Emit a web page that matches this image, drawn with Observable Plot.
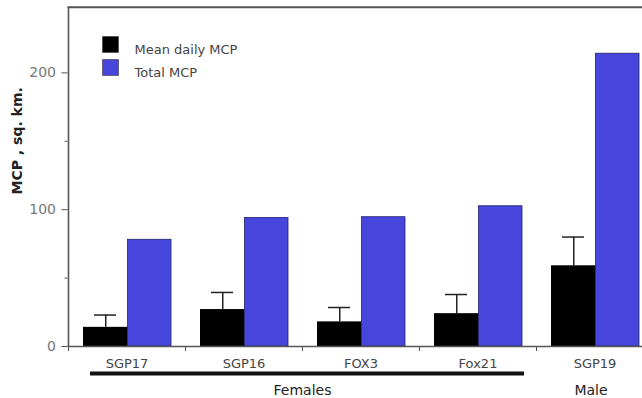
<!DOCTYPE html>
<html>
<head>
<meta charset="utf-8">
<script src="https://cdn.jsdelivr.net/npm/d3@7"></script>
<script src="https://cdn.jsdelivr.net/npm/@observablehq/plot@0.6"></script>
<style>
  html, body { margin: 0; padding: 0; background: #fff; overflow: hidden; }
  g[aria-label="y-title"] text { letter-spacing: 0.6px; }
</style>
</head>
<body>
<div id="chart"></div>
<script>
// Home range (minimum convex polygon) per animal, sq. km.
const animals = ["SGP17", "SGP16", "FOX3", "Fox21", "SGP19"];
const meanDailyMcp = [14, 27, 18, 24, 59];
const meanDailyErr = [9, 12.5, 10.5, 14, 21];
const totalMcp = [78, 94, 94.5, 102.5, 214];
const seriesNames = ["Mean daily MCP", "Total MCP"];
const seriesColors = ["#000000", "#4646dc"];
const yTicks = [0, 100, 200];
const yMinorTicks = [50, 150];
const yTitle = "MCP , sq. km.";
const femalesGroup = {label: "Females", first: "SGP17", last: "Fox21", mid: "FOX3"};
const maleGroup = {label: "Male", mid: "SGP19"};

const rows = animals.map((animal, i) => ({
  animal,
  mean: meanDailyMcp[i],
  err: meanDailyErr[i],
  total: totalMcp[i]
}));

const yMax = 248;
const xLeft = 67.5, step = 117;          // band layout; the last band runs past the right edge
const axisGrey = "#555";

const chart = Plot.plot({
  width: 642,
  height: 398,
  marginTop: 6.7,
  marginBottom: 52,
  marginLeft: xLeft,
  marginRight: 0,
  style: {fontFamily: "'DejaVu Sans', sans-serif", fontSize: "13px", background: "#fff"},
  x: {domain: animals, range: [xLeft, xLeft + step * animals.length], padding: 0, label: null},
  y: {domain: [0, yMax], label: null},
  color: {domain: seriesNames, range: seriesColors},
  marks: [
    // paired bars inside each animal's band
    Plot.barY(rows, {x: "animal", y: "mean", fill: () => seriesNames[0], insetLeft: 15, insetRight: 57.5}),
    Plot.barY(rows, {x: "animal", y: "total", fill: () => seriesNames[1], insetLeft: 59.5, insetRight: 14,
      stroke: "#22226a", strokeWidth: 0.8}),
    // error bars on the daily means
    Plot.ruleX(rows, {x: "animal", y1: "mean", y2: d => d.mean + d.err, dx: -21.25, stroke: "#222", strokeWidth: 1.5}),
    Plot.tickY(rows, {x: "animal", y: d => d.mean + d.err, insetLeft: 26, insetRight: 69, stroke: "#222", strokeWidth: 1.5}),
    // open box: top, bottom and left sides
    Plot.ruleY([0], {stroke: axisGrey, strokeWidth: 1.6}),
    Plot.ruleY([yMax], {stroke: axisGrey, strokeWidth: 2}),
    Plot.ruleX([animals[0]], {dx: -step / 2, stroke: axisGrey, strokeWidth: 1.6}),
    // y axis
    Plot.axisY({ticks: yTicks, tickSize: 6, tickPadding: 6, label: null, fontSize: 14, stroke: axisGrey, fill: "#777"}),
    Plot.axisY({ticks: yMinorTicks, tickSize: 3, tickFormat: () => "", label: null, stroke: axisGrey}),
    Plot.text([yTitle], {frameAnchor: "left", textAnchor: "middle", dx: -50, dy: -36, rotate: -90,
      fontWeight: "bold", fontSize: 14, fill: "#222", ariaLabel: "y-title"}),
    // x axis: animal labels and group boundary ticks
    Plot.axisX({tickSize: 0, tickPadding: 12, label: null, fontSize: 13, fill: "#444"}),
    Plot.axisX({tickSize: 5, tickFormat: () => "", label: null, dx: -step / 2, stroke: axisGrey}),
    // sex grouping
    Plot.ruleY([femalesGroup], {y: () => 0, x1: "first", x2: "last", dy: 27, insetLeft: 22, insetRight: 12,
      stroke: "#111", strokeWidth: 4}),
    Plot.text([femalesGroup], {x: "mid", y: () => 0, text: "label", dx: -step / 2, dy: 44, fontSize: 14, fill: "#222"}),
    Plot.text([maleGroup], {x: "mid", y: () => 0, text: "label", dx: -4, dy: 44, fontSize: 14, fill: "#222"}),
    // legend inside the box
    Plot.dot([seriesNames[0]], {frameAnchor: "top-left", dx: 42.5, dy: 37.3, symbol: "square", r: 9,
      fill: d => d, stroke: "#333", strokeWidth: 0.6}),
    Plot.dot([seriesNames[1]], {frameAnchor: "top-left", dx: 42.5, dy: 60.3, symbol: "square", r: 9,
      fill: d => d, stroke: "#333", strokeWidth: 0.6}),
    Plot.text([seriesNames[0]], {frameAnchor: "top-left", dx: 66.5, dy: 37.3, text: d => d, textAnchor: "start",
      fontSize: 13, fill: "#444"}),
    Plot.text([seriesNames[1]], {frameAnchor: "top-left", dx: 66.5, dy: 60.3, text: d => d, textAnchor: "start",
      fontSize: 13, fill: "#444"})
  ]
});

document.getElementById("chart").append(chart);
</script>
</body>
</html>
